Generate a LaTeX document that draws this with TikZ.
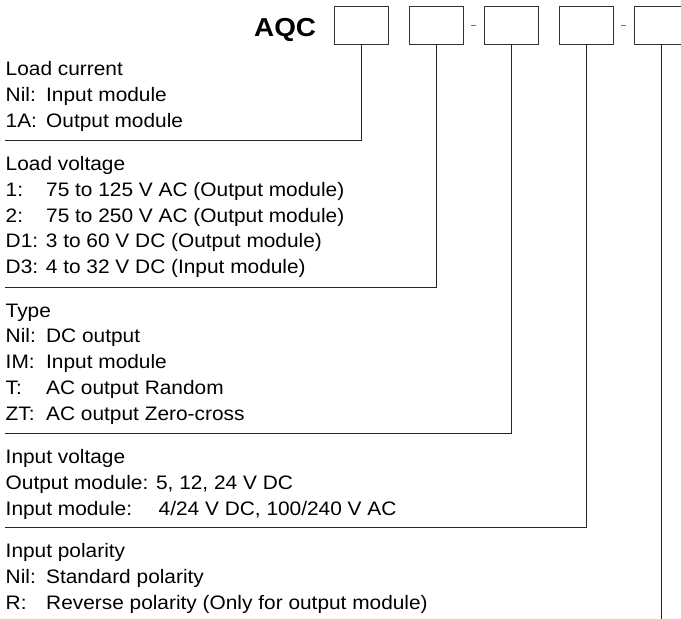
\documentclass[tikz,border=0pt]{standalone}
\usepackage{fontspec}
\setmainfont{Liberation Sans}[FakeStretch=1.07]
\usepackage{tikz}
\usetikzlibrary{positioning,calc}

% label column of the option lists
\newcommand\optkey[1]{\makebox[40.5pt][l]{#1}}
\newcommand\modkey[2]{\makebox[#1][l]{#2}}

\begin{document}
\begin{tikzpicture}[x=1pt, y=-1pt,
    codebox/.style={draw=black!80, line width=0.9pt, minimum width=54pt, minimum height=38pt, inner sep=0pt},
    wire/.style={draw=black!85, line width=0.9pt},
    dashmark/.style={draw=black!55, line width=0.8pt},
    optlist/.style={anchor=base west, align=left, inner sep=0pt, font=\fontsize{19.5}{25.7}\selectfont}]
    \useasboundingbox (0,0) rectangle (681,619);
    \clip (0,0) rectangle (681,619);
    % part number boxes
    \node[anchor=base west, inner sep=0pt, font=\bfseries\fontsize{26}{30}\selectfont] (code) at (254,36) {AQC};
    \foreach \i/\x in {1/361, 2/436, 3/511, 4/586, 5/661} {
        \node[codebox] (b\i) at (\x,25) {};
    }
    \draw[dashmark] ($(b2.east)!0.5!(b3.west)$) ++(-2.5,0) -- ++(5,0);
    \draw[dashmark] ($(b4.east)!0.5!(b5.west)$) ++(-2.5,0) -- ++(5,0);
    % option lists (base = last line)
    \node[optlist] (curr) at (5.5,127) {Load current\\\optkey{Nil:}Input module\\\optkey{1A:}Output module};
    \node[optlist] (volt) at (5.5,273.5) {Load voltage\\\optkey{1:}75 to 125 V AC (Output module)\\\optkey{2:}75 to 250 V AC (Output module)\\D1: 3 to 60 V DC (Output module)\\D3: 4 to 32 V DC (Input module)};
    \node[optlist] (type) at (5.5,420) {Type\\\optkey{Nil:}DC output\\\optkey{IM:}Input module\\\optkey{T:}AC output Random\\\optkey{ZT:}AC output Zero-cross};
    \node[optlist] (inv) at (5.5,515) {Input voltage\\Output module: 5, 12, 24 V DC\\\modkey{153pt}{Input module:}4/24 V DC, 100/240 V AC};
    \node[optlist] (pol) at (5.5,609) {Input polarity\\\optkey{Nil:}Standard polarity\\\optkey{R:}Reverse polarity (Only for output module)};
    % leader lines
    \coordinate (c1) at (5,140);
    \coordinate (c2) at (5,287);
    \coordinate (c3) at (5,433);
    \coordinate (c4) at (5,527);
    \coordinate (c5) at (661,630);
    \draw[wire] (b1.south) |- (c1);
    \draw[wire] (b2.south) |- (c2);
    \draw[wire] (b3.south) |- (c3);
    \draw[wire] (b4.south) |- (c4);
    \draw[wire] (b5.south) -- (c5);
\end{tikzpicture}
\end{document}
